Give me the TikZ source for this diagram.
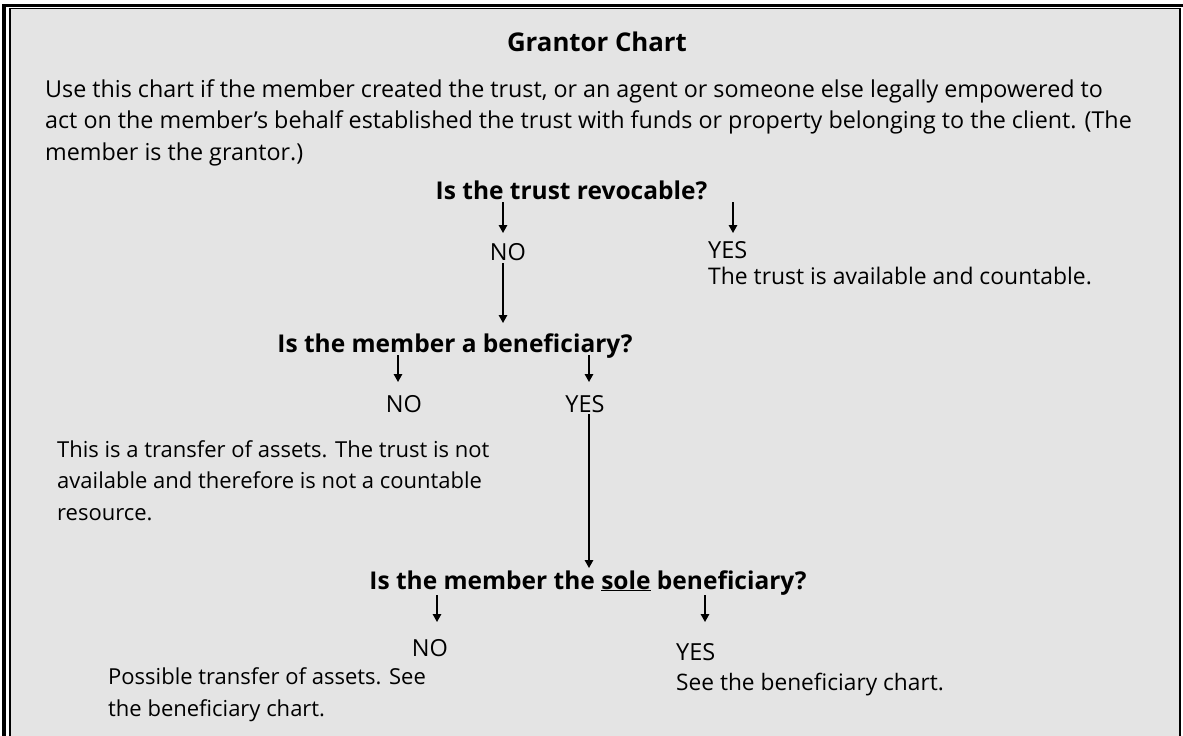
\documentclass[tikz,border=0pt]{standalone}
\usepackage{fontspec}
\setmainfont{Open Sans}
\usetikzlibrary{arrows.meta}

\definecolor{panel}{HTML}{E4E4E4}

\begin{document}
\begin{tikzpicture}[x=1pt,y=1pt,
    txt/.style={inner sep=0, font={\fontsize{22}{31.5}\selectfont}},
    ans/.style={inner sep=0, font={\fontsize{23.5}{28}\selectfont}},
    ask/.style={inner sep=0, font={\bfseries\fontsize{24.5}{28}\selectfont}},
    arr/.style={line width=1.5pt, -{Triangle[length=8pt,width=8.5pt]}}]
    \useasboundingbox (0,0) rectangle (1183,-736);
    \fill[white] (0,0) rectangle (1183,-736);
    \fill[panel] (10,-8.7) rectangle (1180,-740);
    % double frame, cut at right and bottom
    \draw[line width=3.5pt] (4,-745) -- (4,-5.5) -- (1190,-5.5);
    \draw[line width=1.3pt] (10,-745) -- (10,-8.7) -- (1180,-8.7) -- (1180,-745);

    \node at (597,-51) [anchor=base, inner sep=0, font={\bfseries\fontsize{25.8}{30}\selectfont}] (title) {Grantor Chart};
    % multi-line texts: base is the last line
    \node at (45,-160) [txt, anchor=base west, align=left, font={\fontsize{23.3}{31.5}\selectfont}] (intro) {Use this chart if the member created the trust, or an agent or someone else legally empowered to\\
        act on the member’s behalf established the trust with funds or property belonging to the client. (The\\
        member is the grantor.)};

    \node at (571.5,-199) [ask, anchor=base] (q1) {Is the trust revocable?};
    \node at (508,-260) [ans, anchor=base] (no1) {NO};
    \node at (708,-258) [ans, anchor=base west] (yes1) {YES};
    \node at (708,-284) [txt, anchor=base west, font={\fontsize{22.9}{31.5}\selectfont}] (avail) {The trust is available and countable.};

    \node at (455,-352) [ask, anchor=base] (q2) {Is the member a beneficiary?};
    \node at (404,-412) [ans, anchor=base] (no2) {NO};
    \node at (585,-412) [ans, anchor=base] (yes2) {YES};
    \node at (57,-520) [txt, anchor=base west, align=left] (transfer) {This is a transfer of assets. The trust is not\\
        available and therefore is not a countable\\
        resource.};

    \node at (588,-589) [ask, anchor=base] (q3) {Is the member the \underline{sole} beneficiary?};
    \node at (430,-656) [ans, anchor=base] (no3) {NO};
    \node at (676,-660) [ans, anchor=base west] (yes3) {YES};
    \node at (108,-716) [txt, anchor=base west, align=left] (possible) {Possible transfer of assets. See\\
        the beneficiary chart.};
    \node at (676,-690) [txt, anchor=base west, font={\fontsize{22.7}{31.5}\selectfont}] (seechart) {See the beneficiary chart.};

    \coordinate (t1) at (503,-202);
    \coordinate (t2) at (733,-202);
    \coordinate (t3) at (503,-323);
    \coordinate (t4) at (398,-355);
    \coordinate (t5) at (589,-355);
    \coordinate (t6) at (589,-568);
    \coordinate (t7) at (437,-595);
    \coordinate (t8) at (705,-595);

    \draw[arr] (t1) -- ++(0,-31);
    \draw[arr] (t2) -- ++(0,-31);
    \draw[arr] (no1.south -| t3) ++(0,-3) -- (t3);
    \draw[arr] (t4) -- ++(0,-27);
    \draw[arr] (t5) -- ++(0,-27);
    \draw[arr] (yes2.south -| t6) ++(0,-2) -- (t6);
    \draw[arr] (t7) -- ++(0,-27);
    \draw[arr] (t8) -- ++(0,-27);
\end{tikzpicture}
\end{document}
